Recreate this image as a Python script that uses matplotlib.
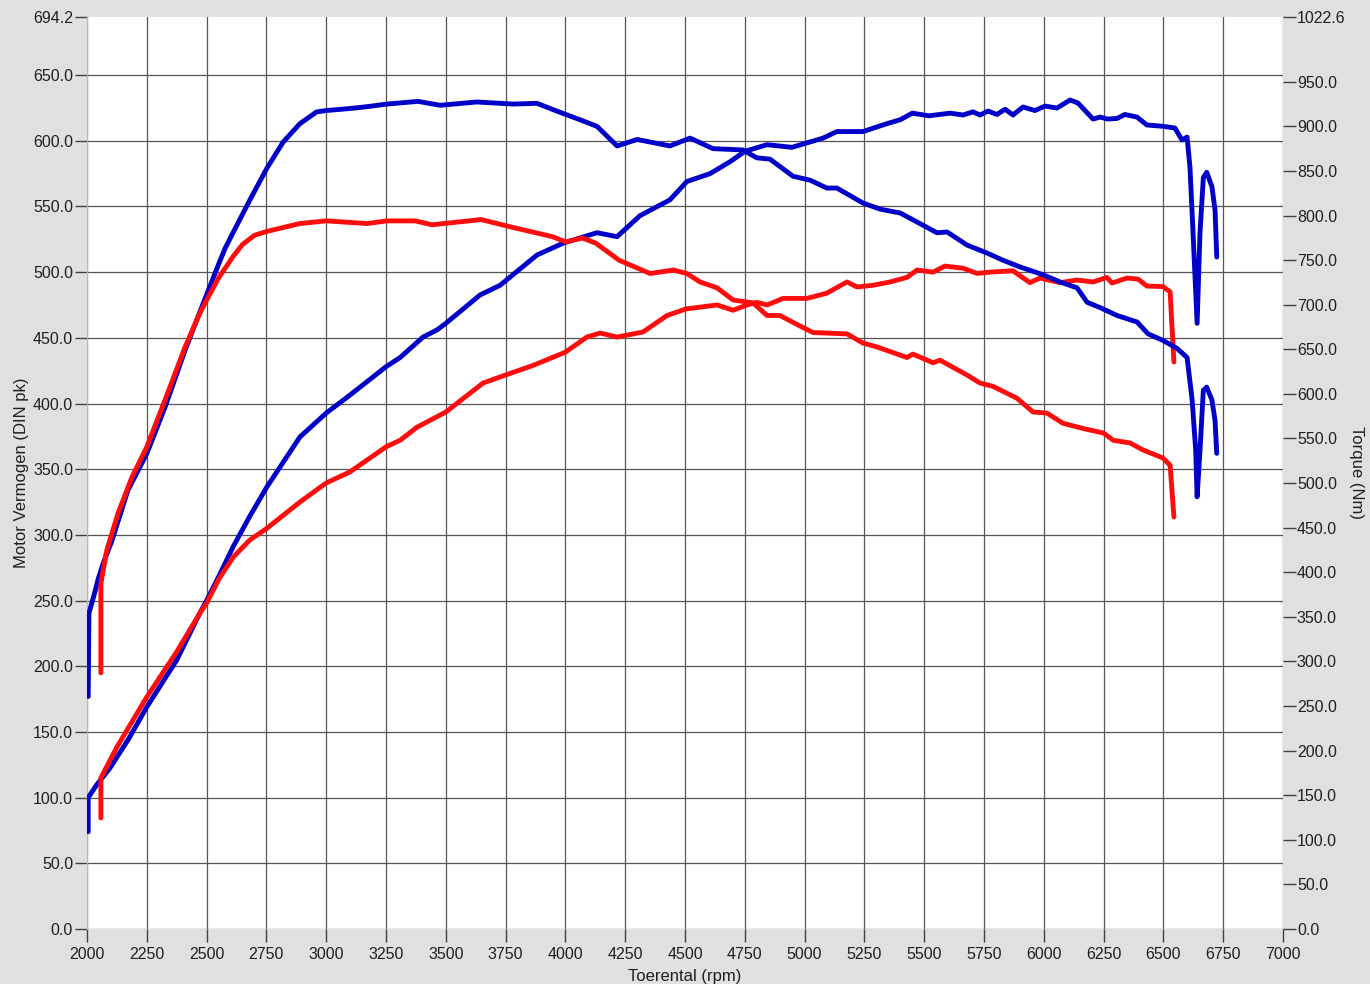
import numpy as np
import matplotlib.pyplot as plt
from matplotlib.ticker import MultipleLocator, FixedLocator

plt.rcParams['font.family'] = ['Liberation Sans', 'DejaVu Sans']

# blue run - power (pk)
rpm_p1 = [2005, 2005, 2040, 2096, 2175, 2250, 2375, 2472, 2500, 2550, 2611, 2680, 2752, 2890,
          3000, 3100, 3250, 3309, 3405, 3463, 3500, 3643, 3727, 3881, 3990, 4132, 4216, 4312,
          4437, 4508, 4605, 4688, 4751, 4843, 4947, 5077, 5135, 5244, 5344, 5400, 5450, 5520,
          5608, 5662, 5704, 5733, 5767, 5804, 5838, 5871, 5913, 5963, 6005, 6055, 6110, 6143,
          6206, 6235, 6268, 6306, 6339, 6390, 6431, 6498, 6548, 6578, 6599, 6611, 6624, 6641,
          6653, 6667, 6681, 6703, 6716, 6723]
pk_1 = [74, 100, 109.6, 122.5, 145, 169, 204.7, 240.5, 250, 268, 291, 314, 336.5, 374.5,
        392.7, 406.5, 428, 435, 450.6, 456, 461, 482.6, 490, 513, 522, 530, 527, 543,
        555, 569, 575, 584, 592, 597, 595, 602, 607, 607, 613, 616, 621, 619,
        621, 619.6, 622, 619.6, 622.6, 620, 624, 619.6, 625.7, 623, 626.4, 624.9, 631, 628.7,
        616.5, 618, 616.5, 617, 620, 618, 612, 611, 609.7, 600.5, 602.8, 580, 529.6, 461,
        530, 572, 576, 565, 547, 511.5]

# blue run - torque (Nm)
rpm_t1 = [2005, 2008, 2033, 2046, 2067, 2105, 2171, 2250, 2326, 2410, 2472, 2548, 2577,
          2611, 2681, 2752, 2820, 2890, 2960, 3000, 3100, 3170, 3254, 3384, 3476, 3630, 3781,
          3881, 3965, 4061, 4132, 4216, 4300, 4437, 4521, 4617, 4742, 4800, 4855, 4952, 5023,
          5093, 5135, 5244, 5315, 5400, 5482, 5553, 5596, 5679, 5763, 5830, 5900, 5997, 6068,
          6139, 6181, 6235, 6306, 6390, 6436, 6498, 6557, 6599, 6620, 6635, 6641, 6653, 6667,
          6681, 6703, 6716, 6723]
nm_1 = [260.7, 354, 377.8, 391.8, 409.5, 436, 492, 533, 585, 649, 692, 743.9, 763,
        781, 817.5, 853, 882.4, 903, 916.2, 917.7, 920, 922, 925, 928, 923.6, 927.3, 925,
        925.8, 917, 907.4, 900, 878, 885.3, 878, 886.8, 875, 873.5, 864.7, 863.2, 844, 839.6,
        830.8, 830.8, 814, 807.2, 802.8, 791, 780.7, 781.5, 766.9, 757.9, 749.8, 742.4, 733.6, 725.5,
        718.9, 702.7, 696.8, 687.9, 680.6, 667.3, 660, 651, 640.8, 593.6, 537, 484.6, 537, 604,
        607.6, 593, 570, 533.3]

# red run - power (pk)
rpm_p2 = [2058, 2058, 2125, 2250, 2375, 2472, 2500, 2550, 2611, 2680, 2752, 2890, 3000, 3100,
          3250, 3309, 3380, 3500, 3656, 3750, 3865, 3999, 4090, 4145, 4216, 4324, 4425, 4504,
          4634, 4701, 4759, 4801, 4843, 4910, 5010, 5093, 5177, 5219, 5286, 5357, 5428, 5470,
          5537, 5587, 5662, 5721, 5775, 5871, 5942, 5984, 6068, 6139, 6206, 6264, 6285, 6348,
          6394, 6431, 6498, 6528, 6544]
pk_2 = [84.5, 115, 138.5, 176.6, 211, 240.5, 248, 266, 283, 296, 305, 325, 339.5, 348,
        367, 372, 382, 393.5, 415.6, 421.7, 429, 439, 450.6, 453.6, 450.6, 454.4, 467, 472,
        475, 471, 475, 477, 475, 480, 480, 484, 492.5, 488.7, 490, 492.5, 496, 501.6,
        500, 504.6, 503, 499, 500, 501, 492, 495.5, 492, 494, 492.5, 496, 491.7, 495.5,
        494.7, 489.4, 489, 485, 431.6]

# red run - torque (Nm)
rpm_t2 = [2058, 2058, 2083, 2130, 2188, 2250, 2326, 2410, 2472, 2548, 2611, 2650, 2700, 2752,
          2890, 3000, 3170, 3254, 3372, 3443, 3647, 3781, 3946, 4002, 4071, 4127, 4225, 4354,
          4452, 4508, 4563, 4634, 4701, 4785, 4843, 4897, 4981, 5035, 5177, 5244, 5303, 5428,
          5453, 5537, 5566, 5679, 5733, 5788, 5888, 5955, 6013, 6080, 6164, 6250, 6290, 6360,
          6415, 6498, 6528, 6544]
nm_2 = [287.2, 387.4, 425, 466.4, 506.7, 540.6, 593, 652.6, 690.9, 729.2, 754.2, 767.5, 777.8, 782.2,
        791, 794, 791, 794, 794, 789.6, 795.5, 786.6, 776.3, 770.4, 774.8, 769, 749.8, 735,
        738.9, 735, 725.5, 718.9, 705.3, 702, 687.9, 687.9, 676.1, 668.8, 667.3, 657, 652.6, 640.8,
        644.6, 634.9, 637.8, 621.2, 612.2, 608.4, 595.1, 579.7, 578.5, 567.1, 561.2, 556.1, 548, 545,
        537.1, 528.1, 520, 462]

pk_max = 694.2
nm_max = 1022.6
blue = '#0000c8'
red = '#ff0c0c'

fig = plt.figure(figsize=(13.7, 9.84), dpi=100, facecolor='#e0e0e0')
ax = fig.add_axes([87/1370, 1 - 929/984, (1283-87)/1370, (929-17)/984])
ax2 = ax.twinx()

ax.plot(rpm_p1, pk_1, c=blue, lw=3.5, solid_capstyle='round', solid_joinstyle='round', zorder=3)
ax.plot(rpm_p2, pk_2, c=red, lw=3.5, solid_capstyle='round', solid_joinstyle='round', zorder=3)
ax2.plot(rpm_t1, nm_1, c=blue, lw=3.5, solid_capstyle='round', solid_joinstyle='round')
ax2.plot(rpm_t2, nm_2, c=red, lw=3.5, solid_capstyle='round', solid_joinstyle='round')

ax.set_xlim(2000, 7000)
ax.set_ylim(0, pk_max)
ax2.set_ylim(0, nm_max)

ax.xaxis.set_major_locator(MultipleLocator(250))
ax.yaxis.set_major_locator(FixedLocator(list(np.arange(0, 651, 50)) + [pk_max]))
ax2.yaxis.set_major_locator(FixedLocator(list(np.arange(0, 951, 50)) + [nm_max]))
ax.yaxis.set_major_formatter(lambda v, p: f"{v:.1f}")
ax2.yaxis.set_major_formatter(lambda v, p: f"{v:.1f}")

ax.grid(True, color='#555555', lw=0.9)
ax.set_axisbelow(True)
# no grid line on the top frame
ax.get_ygridlines()[-1].set_visible(False)

for a in (ax, ax2):
    for s in a.spines.values():
        s.set_visible(False)
    a.tick_params(direction='out', length=9, width=1, color='#404040',
                  labelsize=11.5, pad=1, labelcolor='#202020')
ax.spines['left'].set_visible(True)
ax.spines['left'].set_color('#b8b8b8')
ax.tick_params(axis='x', pad=4)

ax.set_xlabel("Toerental (rpm)", fontsize=12, labelpad=5, color='#202020')
ax.set_ylabel("Motor Vermogen (DIN pk)", fontsize=12, labelpad=3, color='#202020')
ax2.set_ylabel("Torque (Nm)", fontsize=12, rotation=270, labelpad=13, color='#202020')

fig.savefig("out.png", dpi=100, facecolor=fig.get_facecolor())
